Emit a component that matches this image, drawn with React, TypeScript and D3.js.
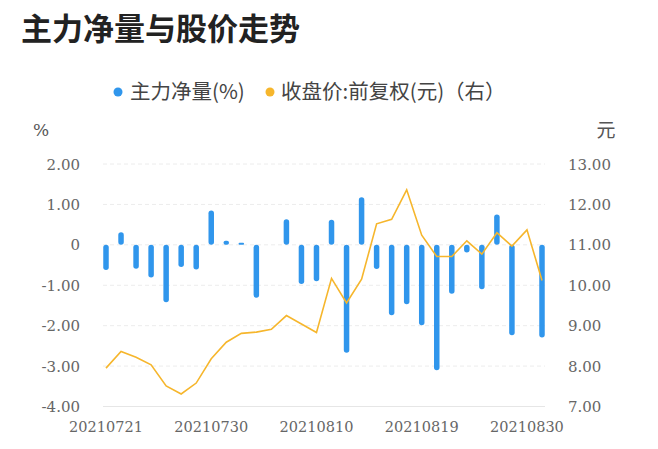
import React from "react";
import * as d3 from "d3";

const dates = [
  "20210721","20210722","20210723","20210726","20210727","20210728","20210729","20210730",
  "20210802","20210803","20210804","20210805","20210806","20210809","20210810",
  "20210811","20210812","20210813","20210816","20210817","20210818","20210819",
  "20210820","20210823","20210824","20210825","20210826","20210827","20210830","20210831",
];
const netFlow = [
  -0.62, 0.31, -0.59, -0.81, -1.42, -0.55, -0.61, 0.85, 0.1, 0.05, -1.31,
  0, 0.63, -0.97, -0.9, 0.62, -2.67, 1.18, -0.6, -1.74, -1.47, -1.99,
  -3.1, -1.21, -0.19, -1.1, 0.75, -2.24, 0, -2.29,
];
const closePrice = [
  7.95, 8.36, 8.22, 8.03, 7.51, 7.31, 7.58, 8.18, 8.59, 8.81, 8.84,
  8.91, 9.25, 9.04, 8.83, 10.17, 9.56, 10.15, 11.52, 11.63, 12.36, 11.24,
  10.71, 10.71, 11.1, 10.77, 11.3, 10.97, 11.37, 10.12,
];
const leftTicks = [2, 1, 0, -1, -2, -3, -4];
const rightTicks = [13, 12, 11, 10, 9, 8, 7];
const xLabels = ["20210721", "20210730", "20210810", "20210819", "20210830"];

const BLUE = "#3096ec";
const ORANGE = "#f6b62c";
const SERIF = "'DejaVu Serif', serif";
const CJK = "'Noto Sans CJK SC', 'Noto Sans', sans-serif";

export default function App() {
  const x = d3.scalePoint<string>().domain(dates).range([106, 542]);
  const yL = d3.scaleLinear().domain([-4, 2]).range([406.5, 164]);
  const yR = d3.scaleLinear().domain([7, 13]).range([406.5, 164]);
  const line = d3
    .line<number>()
    .x((_, i) => x(dates[i]) as number)
    .y((d) => yR(d));
  const gx0 = 103;
  const gx1 = 545;
  const bw = 5.5;

  return (
    <svg width={658} height={449} style={{ position: "absolute", left: 0, top: 0, background: "#fff" }}>
      <text x={21} y={40} fontFamily={CJK} fontSize={31} fontWeight={700} fill="#222">
        主力净量与股价走势
      </text>
      {/* legend */}
      <circle cx={118} cy={92} r={4.5} fill={BLUE} />
      <text x={130} y={99} fontFamily={CJK} fontSize={20.5} fill="#444">
        主力净量(%)
      </text>
      <circle cx={270} cy={92} r={4.5} fill={ORANGE} />
      <text x={281} y={99} fontFamily={CJK} fontSize={20.5} fill="#444">
        收盘价:前复权(元)（右）
      </text>
      {/* axis names */}
      <text x={41} y={136} textAnchor="middle" fontFamily={SERIF} fontSize={17} fill="#555">
        %
      </text>
      <text x={606} y={137} textAnchor="middle" fontFamily={CJK} fontSize={19} fill="#555">
        元
      </text>
      {/* grid */}
      {leftTicks.map((t) => (
        <line
          key={"g" + t}
          x1={gx0}
          x2={gx1}
          y1={yL(t)}
          y2={yL(t)}
          stroke={t === -4 ? "#e6e6e6" : "#ececec"}
          strokeWidth={1}
          strokeDasharray={t === -4 ? undefined : "4,3"}
        />
      ))}
      {leftTicks.map((t) => (
        <text
          key={"l" + t}
          x={80}
          y={yL(t) + 5.5}
          textAnchor="end"
          fontFamily={SERIF}
          fontSize={15}
          fill="#666"
        >
          {t === 0 ? "0" : t.toFixed(2)}
        </text>
      ))}
      {rightTicks.map((t) => (
        <text key={"r" + t} x={568} y={yR(t) + 5.5} fontFamily={SERIF} fontSize={15} fill="#666">
          {t.toFixed(2)}
        </text>
      ))}
      {xLabels.map((d) => (
        <text
          key={"x" + d}
          x={x(d) as number}
          y={432}
          textAnchor="middle"
          fontFamily={SERIF}
          fontSize={14.5}
          fill="#666"
        >
          {d}
        </text>
      ))}
      {/* bars */}
      {netFlow.map((v, i) => {
        if (v === 0) return null;
        const y0 = yL(0);
        const y1 = yL(v);
        const top = Math.min(y0, y1);
        const h = Math.abs(y1 - y0);
        return (
          <rect
            key={"b" + i}
            x={(x(dates[i]) as number) - bw / 2}
            y={top}
            width={bw}
            height={Math.max(h, 1)}
            rx={Math.min(bw / 2, h / 2)}
            fill={BLUE}
          />
        );
      })}
      <path d={line(closePrice) || ""} fill="none" stroke={ORANGE} strokeWidth={1.6} />
    </svg>
  );
}
